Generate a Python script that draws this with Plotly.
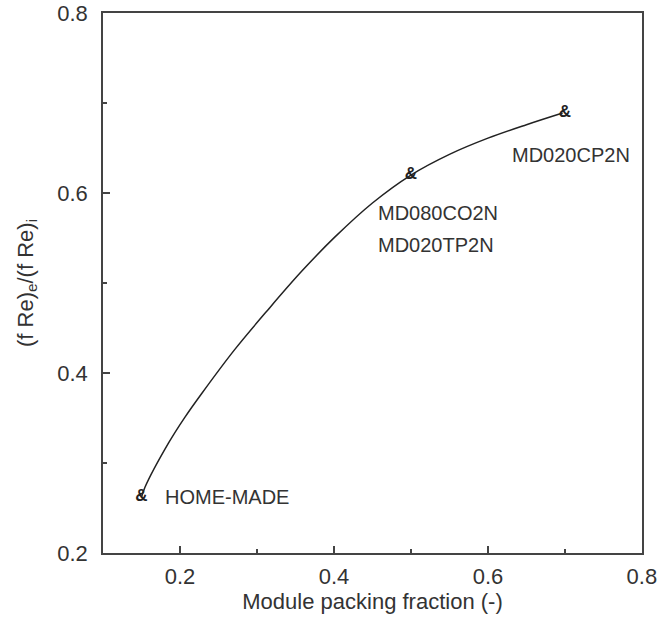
import plotly.graph_objects as go

# measured points
pf = [0.15, 0.50, 0.70]
ratio = [0.262, 0.620, 0.689]

# fitted curve
curve_x = [0.150, 0.1545, 0.185, 0.2065, 0.228, 0.271, 0.315, 0.358, 0.401,
           0.450, 0.500, 0.550, 0.600, 0.650, 0.697]
curve_y = [0.262, 0.273, 0.322, 0.351, 0.377, 0.426, 0.471, 0.513, 0.551,
           0.589, 0.620, 0.643, 0.661, 0.676, 0.689]

# label positions (data coords)
lab_x = [0.178, 0.455, 0.455, 0.628]
lab_y = [0.262, 0.578, 0.542, 0.642]
lab_t = ["HOME-MADE", "MD080CO2N", "MD020TP2N", "MD020CP2N"]

FONT = "Liberation Sans, Arial, sans-serif"
TXT = "#333333"
AX = "#444444"

fig = go.Figure()
fig.add_trace(go.Scatter(x=curve_x, y=curve_y, mode="lines",
                         line=dict(color="#222222", width=1.5, shape="spline", smoothing=1.0),
                         hoverinfo="skip", showlegend=False))
fig.add_trace(go.Scatter(x=pf, y=ratio, mode="text", text=["&"] * len(pf),
                         textfont=dict(family=FONT, size=17, color="#222222", weight="bold"),
                         textposition="middle center", showlegend=False))

for x, y, t in zip(lab_x, lab_y, lab_t):
    fig.add_annotation(x=x, y=y, text=t, showarrow=False, xanchor="left",
                       yanchor="middle", font=dict(family=FONT, size=20, color=TXT))

axis_common = dict(showgrid=False, zeroline=False, showline=True, linecolor=AX,
                   linewidth=1.5, mirror=True, ticks="inside", ticklen=7,
                   tickwidth=1.5, tickcolor=AX, ticklabeloverflow="allow",
                   automargin=False,
                   tickfont=dict(family=FONT, size=22, color=TXT))

fig.update_xaxes(range=[0.1, 0.8001], tick0=0.2, dtick=0.2, tickformat=".1f",
                 ticklabelstandoff=3,
                 minor=dict(dtick=0.1, tick0=0.1, ticks="inside", ticklen=4,
                            tickcolor=AX, tickwidth=1.5),
                 title=dict(text="Module packing fraction (-)",
                            font=dict(family=FONT, size=22, color=TXT), standoff=0),
                 **axis_common)
fig.update_yaxes(range=[0.2, 0.8001], tick0=0.2, dtick=0.2, tickformat=".1f",
                 ticklabelstandoff=9,
                 minor=dict(dtick=0.1, tick0=0.1, ticks="inside", ticklen=4,
                            tickcolor=AX, tickwidth=1.5),
                 title=dict(text="(f Re)<sub>e</sub>/(f Re)<sub>i</sub>",
                            font=dict(family=FONT, size=22, color=TXT), standoff=18),
                 **axis_common)

fig.update_layout(width=657, height=625, paper_bgcolor="white", plot_bgcolor="white",
                  margin=dict(l=103, r=15, t=13, b=72), showlegend=False)

fig.write_html("out.html")
